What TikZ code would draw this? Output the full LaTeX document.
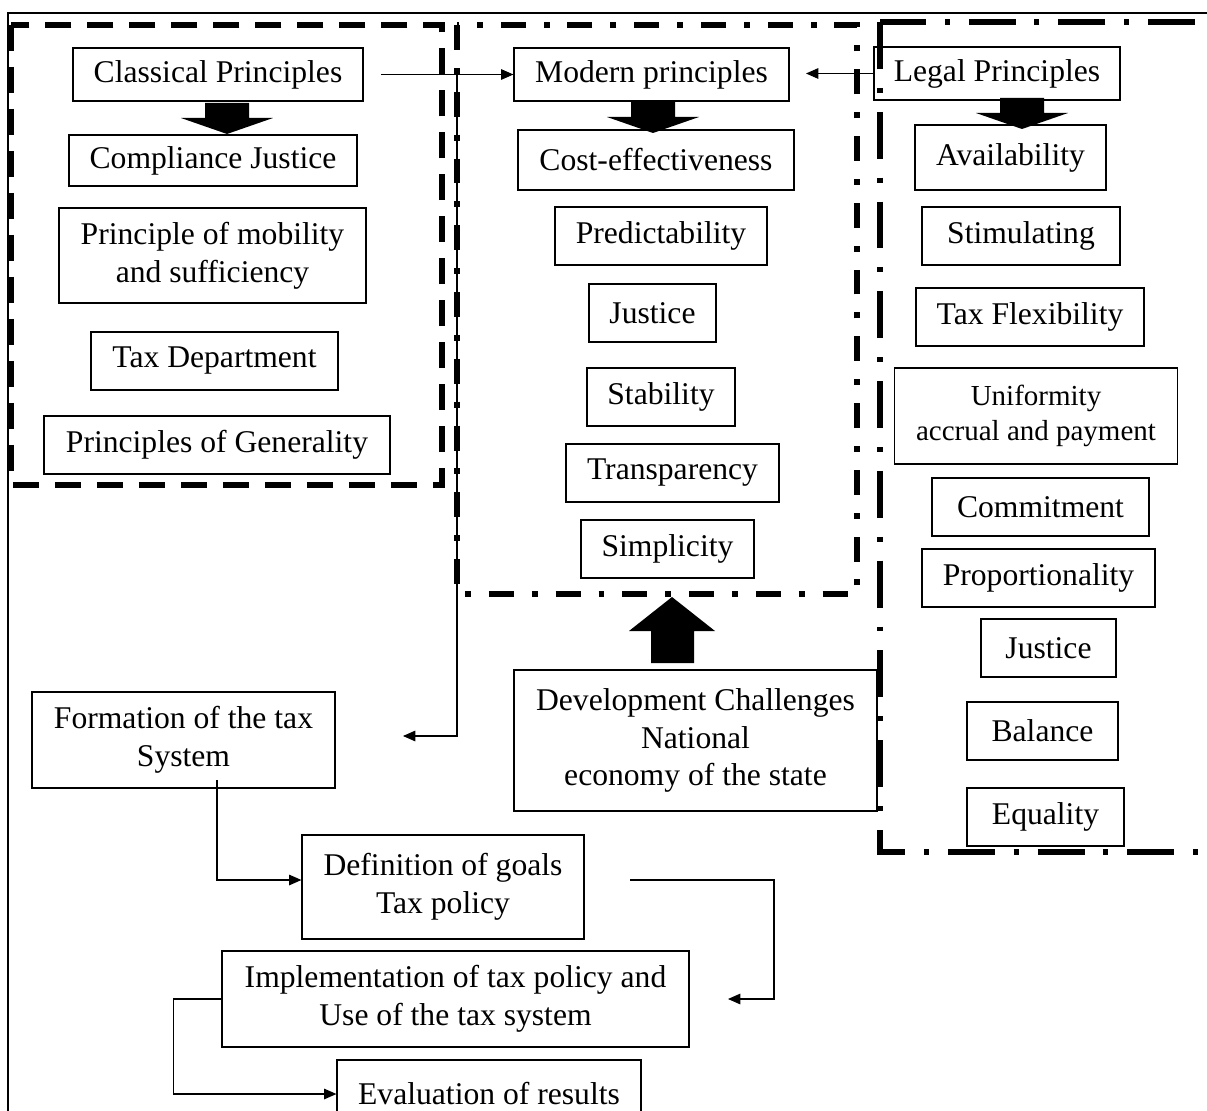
\documentclass[tikz,border=0pt]{standalone}
\usepackage{fontspec}
\setmainfont{Liberation Serif}
\usetikzlibrary{arrows.meta}
\begin{document}
\begin{tikzpicture}[x=0.02cm, y=-0.02cm,
        box/.style={draw, line width=0.7pt, align=center, inner sep=0pt, font=\fontsize{18}{21.5}\selectfont},
        arr/.style={line width=0.6pt, -{Triangle[length=7pt,width=6pt]}},
        classicframe/.style={line width=3.2pt, dash pattern=on 14.8pt off 9.1pt},
        modernframe/.style={line width=3.2pt, dash pattern=on 14.2pt off 10.2pt on 3.4pt off 10.2pt},
        legalframe/.style={line width=3.2pt, dash pattern=on 26.7pt off 10.8pt on 2.8pt off 10.8pt}]
        \useasboundingbox (0,0) rectangle (1207,1111);
        \clip (0,0) rectangle (1207,1111);
        % frames
        \draw[line width=0.8pt] (8,1130) -- (8,13) -- (1230,13);
        \draw[classicframe] (11,25) rectangle (442,485);
        \draw[modernframe] (457,25) rectangle (857,594);
        \draw[legalframe] (880,22) rectangle (1240,852);
        % classical principles
        \node[box, minimum width=5.8cm, minimum height=1.06cm] (cp) at (218,74.5) {Classical Principles};
        \node[box, minimum width=5.76cm, minimum height=1.02cm] (cj) at (213,160.5) {Compliance Justice};
        \node[box, minimum width=6.14cm, minimum height=1.9cm] (pm) at (212.5,255.5) {Principle of mobility\\and sufficiency};
        \node[box, minimum width=4.94cm, minimum height=1.16cm] (td) at (214.5,361) {Tax Department};
        \node[box, minimum width=6.92cm, minimum height=1.16cm] (pg) at (217,445) {Principles of Generality};
        % modern principles
        \node[box, minimum width=5.5cm, minimum height=1.06cm] (mp) at (651.5,74.5) {Modern principles};
        \node[box, minimum width=5.52cm, minimum height=1.2cm] (ce) at (656,160) {Cost-effectiveness};
        \node[box, minimum width=4.24cm, minimum height=1.16cm] (pr) at (661,236) {Predictability};
        \node[box, minimum width=2.54cm, minimum height=1.16cm] (ju) at (652.5,313) {Justice};
        \node[box, minimum width=2.96cm, minimum height=1.16cm] (st) at (661,397) {Stability};
        \node[box, minimum width=4.26cm, minimum height=1.16cm] (tr) at (672.5,473) {Transparency};
        \node[box, minimum width=3.46cm, minimum height=1.16cm] (si) at (667.5,549) {Simplicity};
        % legal principles
        \node[box, minimum width=4.92cm, minimum height=1.06cm] (lp) at (997,73.5) {Legal Principles};
        \node[box, minimum width=3.82cm, minimum height=1.3cm] (av) at (1010.5,157.5) {Availability};
        \node[box, minimum width=3.96cm, minimum height=1.16cm] (sm) at (1021,236) {Stimulating};
        \node[box, minimum width=4.56cm, minimum height=1.16cm] (tf) at (1030,317) {Tax Flexibility};
        \node[box, minimum width=5.66cm, minimum height=1.92cm, font=\fontsize{16.5}{20}\selectfont] (un) at (1036,416) {Uniformity\\accrual and payment};
        \node[box, minimum width=4.34cm, minimum height=1.16cm] (cm) at (1040.5,507) {Commitment};
        \node[box, minimum width=4.66cm, minimum height=1.16cm] (pp) at (1038.5,578) {Proportionality};
        \node[box, minimum width=2.7cm, minimum height=1.16cm] (jl) at (1048.5,648) {Justice};
        \node[box, minimum width=3.02cm, minimum height=1.16cm] (ba) at (1042.5,731) {Balance};
        \node[box, minimum width=3.14cm, minimum height=1.16cm] (eq) at (1045.5,817) {Equality};
        % lower chain
        \node[box, minimum width=7.26cm, minimum height=2.82cm] (dc) at (695.5,740.5) {Development Challenges\\National\\economy of the state};
        \node[box, minimum width=6.06cm, minimum height=1.92cm] (fs) at (183.5,740) {Formation of the tax\\System};
        \node[box, minimum width=5.64cm, minimum height=2.08cm] (dg) at (443,887) {Definition of goals\\Tax policy};
        \node[box, minimum width=9.34cm, minimum height=1.92cm] (ip) at (455.5,999) {Implementation of tax policy and\\Use of the tax system};
        \node[box, minimum width=6.08cm, minimum height=1.36cm] (ev) at (489,1094) {Evaluation of results};
        % block arrows
        \foreach \x/\y in {227/103, 653/102, 1022/98} {
            \fill (\x-22,\y) -- (\x+22,\y) -- (\x+22,\y+15) -- (\x+46,\y+15) -- (\x,\y+31) -- (\x-46,\y+15) -- (\x-22,\y+15) -- cycle;
        }
        \fill (651,663) -- (694,663) -- (694,631) -- (715,631) -- (672,597) -- (629,631) -- (651,631) -- cycle;
        % connectors
        \coordinate (cpout) at (381,74.5);
        \coordinate (branch) at (457,74.5);
        \coordinate (mpin) at (806,73.5);
        \coordinate (fsin) at (403,736);
        \coordinate (fsout) at (217,780);
        \coordinate (dgout) at (630,880);
        \coordinate (ipin) at (728,999);
        \draw[arr] (cpout) -- (mp.west);
        \draw[arr] (lp.west) -- (mpin);
        \draw[arr] (branch) |- (fsin);
        \draw[arr] (fsout) |- ([yshift=0.14cm]dg.west);
        \draw[arr] (dgout) -- ++(144,0) |- (ipin);
        \draw[arr] (ip.west) -- ++(-48,0) |- (ev.west);
    \end{tikzpicture}
\end{document}
